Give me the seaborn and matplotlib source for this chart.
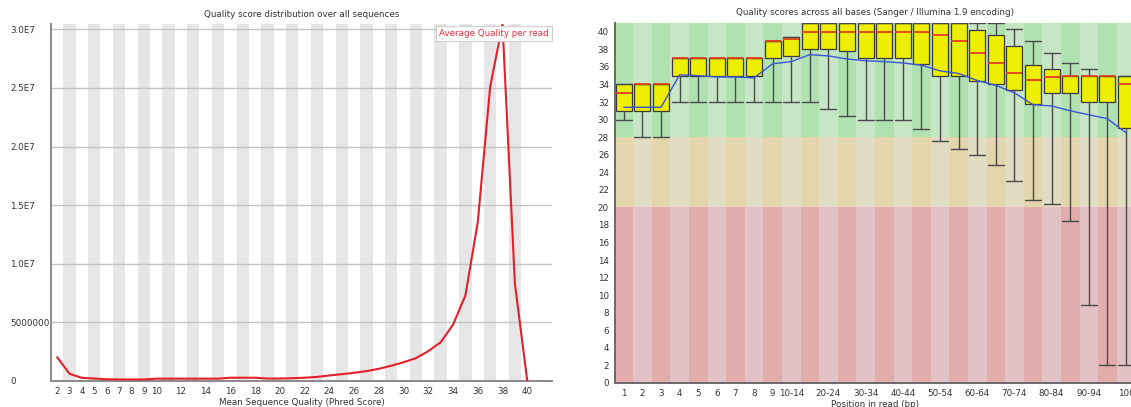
import numpy as np
import matplotlib
matplotlib.use("Agg")
import matplotlib.pyplot as plt
import seaborn as sns

# ---- Per-read mean quality distribution ----
phred_scores = list(range(2, 41))
read_counts = [
    2.03e6, 0.61e6, 0.27e6, 0.21e6, 0.15e6, 0.13e6, 0.13e6, 0.13e6, 0.20e6,
    0.20e6, 0.20e6, 0.20e6, 0.20e6, 0.20e6, 0.28e6, 0.28e6, 0.28e6, 0.21e6,
    0.21e6, 0.24e6, 0.28e6, 0.35e6, 0.47e6, 0.58e6, 0.70e6, 0.84e6, 1.04e6,
    1.30e6, 1.60e6, 1.95e6, 2.55e6, 3.30e6, 4.80e6, 7.30e6, 13.55e6, 25.07e6,
    30.45e6, 8.30e6, 0.0,
]
count_ticks = [0, 5e6, 1.0e7, 1.5e7, 2.0e7, 2.5e7, 3.0e7]
count_tick_labels = ["0", "5000000", "1.0E7", "1.5E7", "2.0E7", "2.5E7", "3.0E7"]
phred_tick_values = list(range(2, 11)) + list(range(12, 41, 2))

# ---- Per-position quality boxes ----
positions = ["1", "2", "3", "4", "5", "6", "7", "8", "9",
             "10-14", "15-19", "20-24", "25-29", "30-34", "35-39", "40-44",
             "45-49", "50-54", "55-59", "60-64", "65-69", "70-74", "75-79",
             "80-84", "85-89", "90-94", "95-99", "100"]
pct10 = [30, 28, 28, 32, 32, 32, 32, 32, 32, 32, 32, 31.2, 30.4, 30, 30, 30,
         28.9, 27.6, 26.6, 26.0, 24.8, 23.0, 20.8, 20.4, 18.5, 8.9, 2, 2]
lower_q = [31, 31, 31, 35, 35, 35, 35, 35, 37, 37.2, 38, 38, 37.8, 37, 37, 37,
           36.3, 35, 35, 34.45, 34, 33.4, 31.8, 33.05, 33, 32, 32, 29]
median_q = [33, 34, 34, 37, 37, 37, 37, 37, 39, 39.2, 40, 40, 40, 40, 40, 40,
            40, 39.6, 39, 37.6, 36.4, 35.25, 34.55, 34.9, 35, 35, 35, 34]
upper_q = [34, 34, 34, 37, 37, 37, 37, 37, 39, 39.4, 41, 41, 41, 41, 41, 41,
           41, 41, 41, 40.2, 39.6, 38.4, 36.2, 35.8, 35, 35, 35, 35]
pct90 = [34, 34, 34, 37, 37, 37, 37, 37, 39, 39.4, 41, 41, 41, 41, 41, 41,
         41, 41, 41, 41, 41, 40.3, 38.9, 37.6, 36.4, 35.8, 35, 35]
mean_q = [31.4, 31.4, 31.4, 35.1, 35.0, 34.85, 34.85, 34.75, 36.35, 36.6,
          37.4, 37.25, 36.9, 36.7, 36.6, 36.45, 36.2, 35.55, 35.25, 34.45,
          33.9, 33.05, 31.7, 31.55, 31.0, 30.55, 30.1, 28.5]
position_tick_labels = ["1", "2", "3", "4", "5", "6", "7", "8", "9", "10-14",
                        "", "20-24", "", "30-34", "", "40-44", "", "50-54", "",
                        "60-64", "", "70-74", "", "80-84", "", "90-94", "", "100"]

sns.set_style("white")
plt.rcParams["font.family"] = ["DejaVu Sans"]
TXT = "#333333"
SPINE = "#6a6a6a"
FS = 6.3

fig = plt.figure(figsize=(11.31, 4.07), dpi=100)
W, H = 1131, 407

# ================= left panel =================
ax1 = fig.add_axes([51 / W, 1 - 381 / H, (552 - 51) / W, (381 - 24) / H])
ax1.set_xlim(1.5, 42.0)
ax1.set_ylim(0, max(read_counts))
for q in phred_scores:
    if q % 2 == 1:
        ax1.axvspan(q - 0.5, q + 0.5, color="#e6e6e6", lw=0, zorder=0)
ax1.set_yticks(count_ticks)
ax1.set_yticklabels(count_tick_labels)
ax1.yaxis.grid(True, color="#c4c4c4", lw=1.0, zorder=1)
ax1.xaxis.grid(False)
ax1.set_axisbelow(True)
sns.lineplot(x=phred_scores, y=read_counts, ax=ax1, color="#e3202a", lw=1.5,
             label="Average Quality per read", zorder=3)
leg = ax1.legend(loc="upper right", bbox_to_anchor=(1.0, 0.995),
                 handlelength=0, handletextpad=0, fancybox=False,
                 frameon=True, edgecolor="#cfcfcf", framealpha=1,
                 borderpad=0.35, fontsize=FS, labelcolor="#e3303a",
                 borderaxespad=0)
leg.get_frame().set_linewidth(0.8)
for h in leg.legend_handles:
    h.set_visible(False)
ax1.set_xticks(phred_tick_values)
ax1.set_xticklabels([str(v) for v in phred_tick_values])
ax1.tick_params(axis="x", length=0, pad=4, labelsize=FS, labelcolor=TXT)
ax1.tick_params(axis="y", length=0, pad=29.5, labelsize=FS, labelcolor=TXT)
for lab in ax1.get_yticklabels():
    lab.set_horizontalalignment("left")
ax1.set_xlabel("Mean Sequence Quality (Phred Score)", fontsize=FS, color=TXT, labelpad=1.5)
ax1.set_ylabel("")
ax1.set_title("Quality score distribution over all sequences", fontsize=FS,
              color=TXT, pad=5)
for side in ("top", "right"):
    ax1.spines[side].set_visible(False)
for side in ("left", "bottom"):
    ax1.spines[side].set_color("#8a8a8a")
    ax1.spines[side].set_linewidth(1.4)

# ================= right panel =================
ax2 = fig.add_axes([614.5 / W, 1 - 383 / H, 28 * 18.6 / W, (383 - 23) / H])
n = len(positions)
idx = np.arange(n)
ax2.set_xlim(-0.5, n - 0.5)
ax2.set_ylim(0, 41)

zones = [
    (0, 20, "#e3adad", "#e2c2c4"),
    (20, 28, "#e3d6ac", "#e2dcc4"),
    (28, 41, "#b0e1b0", "#c6e6c6"),
]
for lo, hi, dark, light in zones:
    cols = [dark if i % 2 == 0 else light for i in idx]
    ax2.bar(idx, hi - lo, bottom=lo, width=1.0, color=cols, lw=0, zorder=0)

stats = []
for i in range(n):
    stats.append(dict(med=median_q[i], q1=lower_q[i], q3=upper_q[i],
                      whislo=pct10[i], whishi=pct90[i], fliers=[]))
ax2.bxp(stats, positions=idx, widths=0.86, capwidths=0.86, patch_artist=True,
        showfliers=False, manage_ticks=False,
        boxprops=dict(facecolor="#eeee00", edgecolor="#3a3a3a", lw=0.9),
        medianprops=dict(color="#e2401e", lw=1.3),
        whiskerprops=dict(color="#4a4a4a", lw=1.0),
        capprops=dict(color="#4a4a4a", lw=1.0), zorder=2)
sns.lineplot(x=idx, y=mean_q, ax=ax2, color="#3a55d6", lw=1.0, zorder=3)

ax2.set_yticks(range(0, 41, 2))
ax2.set_xticks(idx)
ax2.set_xticklabels(position_tick_labels)
ax2.tick_params(axis="both", length=0, labelsize=FS, labelcolor=TXT)
ax2.tick_params(axis="x", pad=4)
ax2.tick_params(axis="y", pad=4)
ax2.set_xlabel("Position in read (bp)", fontsize=FS, color=TXT, labelpad=1.5)
ax2.set_title("Quality scores across all bases (Sanger / Illumina 1.9 encoding)",
              fontsize=FS, color=TXT, pad=6)
ax2.grid(False)
for side in ("top", "right"):
    ax2.spines[side].set_visible(False)
for side in ("left", "bottom"):
    ax2.spines[side].set_color(SPINE)
    ax2.spines[side].set_linewidth(1.4)

fig.savefig("out.png", dpi=100)
